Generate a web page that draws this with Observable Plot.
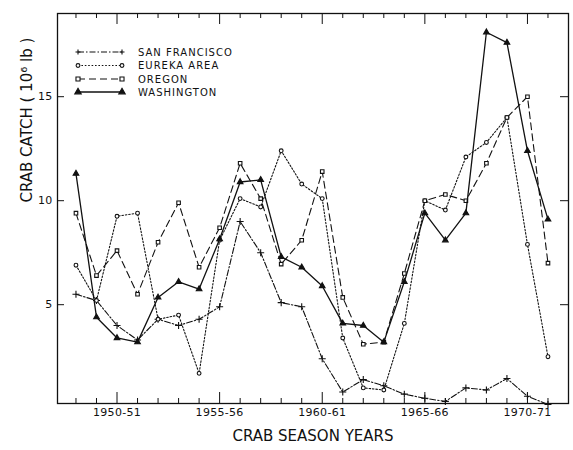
<!DOCTYPE html>
<html><head><meta charset="utf-8">
<script src="https://cdn.jsdelivr.net/npm/d3@7"></script>
<script src="https://cdn.jsdelivr.net/npm/@observablehq/plot@0.6"></script>
<style>
body{margin:0;background:#fff;}
#wrap{position:relative;width:573px;height:450px;font-family:"DejaVu Sans",sans-serif;}
#wrap svg{position:absolute;left:0;top:0;}
</style></head><body><div id="wrap"></div>
<script>
// Season start years (1948 = "1948-49")
const seasons = [1948,1949,1950,1951,1952,1953,1954,1955,1956,1957,1958,1959,1960,1961,1962,1963,1964,1965,1966,1967,1968,1969,1970,1971];
const sanFrancisco = [5.5,5.2,4.0,3.3,4.3,4.0,4.3,4.9,9.0,7.5,5.1,4.9,2.4,0.8,1.4,1.1,0.7,0.5,0.35,1.0,0.9,1.45,0.6,0.2];
const eurekaArea  = [6.9,5.2,9.25,9.4,4.3,4.5,1.7,8.1,10.1,9.7,12.4,10.8,10.1,3.4,1.0,0.9,4.1,10.0,9.55,12.1,12.8,14.0,7.9,2.5];
const oregon      = [9.4,6.4,7.6,5.5,8.0,9.9,6.8,8.7,11.8,10.1,6.95,8.1,11.4,5.35,3.1,3.2,6.5,10.0,10.3,10.0,11.8,14.0,15.0,7.0];
const washington  = [11.3,4.4,3.4,3.2,5.35,6.1,5.75,8.15,10.9,11.0,7.3,6.8,5.9,4.1,4.0,3.2,6.1,9.4,8.1,9.4,18.1,17.6,12.4,9.1];

const seriesNames = ["SAN FRANCISCO","EUREKA AREA","OREGON","WASHINGTON"];
const xTickValues = [1950,1955,1960,1965,1970];
const xTickLabels = ["1950-51","1955-56","1960-61","1965-66","1970-71"];
const yTickValues = [5,10,15];
const xTitle = "CRAB SEASON YEARS";
const yTitle = "CRAB CATCH ( 10⁶ lb )";

const seriesValues = [sanFrancisco, eurekaArea, oregon, washington];
const styles = {
  "SAN FRANCISCO": {dash:"6,2,1.5,2", symbol:"plus", r:2.4, fill:"none", sw:1.1},
  "EUREKA AREA":   {dash:"1.6,1.8", symbol:"circle", r:1.9, fill:"white", sw:1.1},
  "OREGON":        {dash:"7,4", symbol:"square", r:2.0, fill:"white", sw:1.1},
  "WASHINGTON":    {dash:null, symbol:"triangle", r:2.1, fill:"#111", sw:1.3}
};

const W = 573, H = 450, mL = 57, mR = 5, mT = 13, mB = 47;
const innerW = W - mL - mR, innerH = H - mT - mB;

const marks = [];
seriesNames.forEach((name, i) => {
  const rows = seasons.map((s, j) => ({season: s, value: seriesValues[i][j]}));
  const st = styles[name];
  marks.push(Plot.line(rows, {x: "season", y: "value", stroke: "#111", strokeWidth: st.sw, strokeDasharray: st.dash || undefined}));
  marks.push(Plot.dot(rows, {x: "season", y: "value", symbol: () => st.symbol, r: st.r, stroke: "#111", strokeWidth: 1.1, fill: st.fill}));
});

const minorYears = seasons;
const svg = Plot.plot({
  width: W, height: H,
  marginLeft: mL, marginRight: mR, marginTop: mT, marginBottom: mB,
  style: {fontFamily: '"DejaVu Sans", sans-serif', color: "#111", background: "white"},
  x: {domain: [1947.1, 1972.0]},
  y: {domain: [0.25, 19]},
  symbol: {type: "identity"},
  marks: [
    Plot.frame({stroke: "#111", strokeWidth: 1.3}),
    Plot.tickX(minorYears.filter(d => !xTickValues.includes(d)), {x: d => d, insetTop: innerH - 5, stroke: "#111", strokeWidth: 1}),
    Plot.tickX(xTickValues, {x: d => d, insetTop: innerH - 11, stroke: "#111", strokeWidth: 1}),
    Plot.tickX(minorYears.filter(d => !xTickValues.includes(d)), {x: d => d, insetBottom: innerH - 5, stroke: "#111", strokeWidth: 1}),
    Plot.tickX(xTickValues, {x: d => d, insetBottom: innerH - 11, stroke: "#111", strokeWidth: 1}),
    Plot.tickY(yTickValues, {y: d => d, insetRight: innerW - 7, stroke: "#111", strokeWidth: 1}),
    Plot.tickY(yTickValues, {y: d => d, insetLeft: innerW - 8, stroke: "#111", strokeWidth: 1}),
    Plot.axisX(xTickValues, {tickSize: 0, tickPadding: 5, fontSize: 11, tickFormat: (d) => xTickLabels[xTickValues.indexOf(d)], label: null}),
    Plot.axisY(yTickValues, {tickSize: 0, tickPadding: 5, fontSize: 11, label: null}),
    Plot.text([xTitle], {text: d => d, frameAnchor: "bottom", dy: 37, fontSize: 15, fill: "#111", ariaLabel: "x-title"}),
    Plot.text([yTitle], {text: d => d, frameAnchor: "left", rotate: -90, dx: -30, dy: -6, fontSize: 15, fill: "#111", ariaLabel: "y-title"}),
    ...marks
  ]
});
document.getElementById("wrap").appendChild(svg);
d3.select(svg).selectAll('g[aria-label="x-title"], g[aria-label="y-title"]').style("letter-spacing", "1px");
d3.select(svg).selectAll('g[aria-label="x-axis tick label"], g[aria-label="y-axis tick label"]').style("letter-spacing", "0.3px");

// Legend overlay
const leg = d3.select("#wrap").append("svg").attr("width", W).attr("height", H).style("pointer-events", "none");
const rowY = [52, 65.5, 79, 92];
const sym = {circle: d3.symbolCircle, square: d3.symbolSquare, triangle: d3.symbolTriangle};
seriesNames.forEach((name, i) => {
  const st = styles[name];
  const y = rowY[i];
  leg.append("line").attr("x1", 78).attr("x2", 122).attr("y1", y).attr("y2", y)
    .attr("stroke", "#111").attr("stroke-width", st.sw).attr("stroke-dasharray", st.dash);
  [78, 122].forEach(x => {
    if (st.symbol === "plus") {
      leg.append("path").attr("d", `M${x-2.5},${y}h5M${x},${y-2.5}v5`).attr("stroke", "#111").attr("stroke-width", 1.1);
    } else {
      const size = Math.PI * st.r * st.r * (st.symbol === "circle" ? 1 : 1.3);
      leg.append("path").attr("transform", `translate(${x},${y})`)
        .attr("d", d3.symbol(sym[st.symbol], size)())
        .attr("fill", st.fill).attr("stroke", "#111").attr("stroke-width", 1.1);
    }
  });
  leg.append("text").attr("x", 138).attr("y", y + 3.7).text(name)
    .attr("font-size", 10).attr("letter-spacing", "1px").attr("fill", "#111")
    .attr("font-family", '"DejaVu Sans", sans-serif');
});
</script>
</body></html>
